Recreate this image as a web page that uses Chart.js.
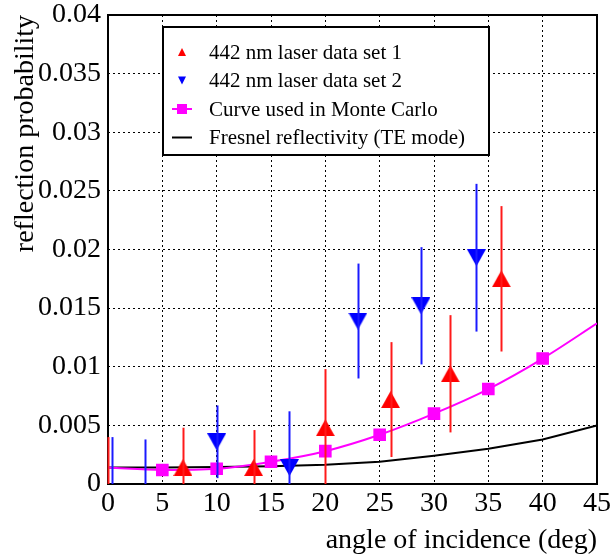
<!DOCTYPE html>
<html>
<head>
<meta charset="utf-8">
<script src="https://cdn.jsdelivr.net/npm/chart.js@4.4.1/dist/chart.umd.min.js"></script>
<style>
  html, body { margin: 0; padding: 0; background: #fff; }
  #wrap { width: 611px; height: 558px; }
</style>
</head>
<body>
<div id="wrap"><canvas id="c"></canvas></div>
<script>
// data
const set1X   = [0, 6.9, 13.4, 20.0, 26.0, 31.5, 36.2];
const set1Y   = [-0.0012, 0.0014, 0.0014, 0.0048, 0.0072, 0.0094, 0.0175];
const set1Err = [0.0052, 0.0034, 0.0032, 0.0050, 0.0049, 0.0050, 0.0062];

const set2X   = [0.35, 3.4, 10.0, 16.7, 23.0, 28.8, 33.9];
const set2Y   = [-0.0012, -0.0012, 0.0036, 0.0014, 0.0139, 0.0152, 0.0193];
const set2Err = [0.0052, 0.0050, 0.0031, 0.0048, 0.0049, 0.0050, 0.0063];

const curveX  = [0, 5, 10, 15, 20, 25, 30, 35, 40, 45];
const curveY  = [0.0014, 0.0012, 0.0013, 0.0019, 0.0028, 0.0042, 0.0060, 0.0081, 0.0107, 0.0137];

const fresX   = [0, 5, 10, 15, 20, 25, 30, 35, 40, 45];
const fresY   = [0.00140, 0.00141, 0.00145, 0.00152, 0.00165, 0.0019, 0.0024, 0.0030, 0.0038, 0.0050];

const xTicks = [0, 5, 10, 15, 20, 25, 30, 35, 40, 45];
const yTicks = [0, 0.005, 0.01, 0.015, 0.02, 0.025, 0.03, 0.035, 0.04];

const legendItems = [
  { label: '442 nm laser data set 1', kind: 'up', color: '#ff0000' },
  { label: '442 nm laser data set 2', kind: 'down', color: '#0000ff' },
  { label: 'Curve used in Monte Carlo', kind: 'square', color: '#ff00ff' },
  { label: 'Fresnel reflectivity (TE mode)', kind: 'line', color: '#000000' }
];

const FONT = "'Liberation Serif', 'DejaVu Serif', serif";

// triangle markers centred on their bounding box
function triangleImg(color, up, w, h) {
  const cv = document.createElement('canvas');
  cv.width = w; cv.height = h;
  const g = cv.getContext('2d');
  g.fillStyle = color;
  g.beginPath();
  if (up) { g.moveTo(w / 2, 0); g.lineTo(w, h); g.lineTo(0, h); }
  else { g.moveTo(0, 0); g.lineTo(w, 0); g.lineTo(w / 2, h); }
  g.closePath();
  g.fill();
  return cv;
}
const upImg = triangleImg('#ff0000', true, 19, 17);
const downImg = triangleImg('#0000ff', false, 19, 17);

const pts = (xs, ys) => xs.map((x, i) => ({ x: x, y: ys[i] }));

const errorBars = {
  id: 'errorBars',
  afterDatasetsDraw(chart) {
    const { ctx, chartArea, scales: { x, y } } = chart;
    ctx.save();
    ctx.beginPath();
    ctx.rect(chartArea.left - 1, chartArea.top, chartArea.right - chartArea.left + 2, chartArea.bottom - chartArea.top);
    ctx.clip();
    ctx.lineWidth = 2;
    [[set1X, set1Y, set1Err, '#ff1a1a'], [set2X, set2Y, set2Err, '#1a1aff']].forEach(([xs, ys, es, col]) => {
      ctx.strokeStyle = col;
      xs.forEach((xv, i) => {
        const px = Math.round(x.getPixelForValue(xv)) + 0.5;
        ctx.beginPath();
        ctx.moveTo(px, y.getPixelForValue(ys[i] - es[i]));
        ctx.lineTo(px, y.getPixelForValue(ys[i] + es[i]));
        ctx.stroke();
      });
    });
    ctx.restore();
  }
};

const frame = {
  id: 'frame',
  beforeDatasetsDraw(chart) {
    const { ctx, chartArea: a } = chart;
    ctx.save();
    ctx.strokeStyle = '#000';
    ctx.lineWidth = 2;
    ctx.strokeRect(a.left, a.top, a.right - a.left, a.bottom - a.top);
    ctx.restore();
  }
};

const boxLegend = {
  id: 'boxLegend',
  afterDraw(chart) {
    const { ctx } = chart;
    const bx = 163, by = 27, bw = 326, bh = 128;
    ctx.save();
    ctx.fillStyle = '#fff';
    ctx.fillRect(bx, by, bw, bh);
    ctx.strokeStyle = '#000';
    ctx.lineWidth = 2;
    ctx.strokeRect(bx, by, bw, bh);
    ctx.font = '21px ' + FONT;
    ctx.textBaseline = 'middle';
    legendItems.forEach((it, i) => {
      const cy = 52 + i * 28.5;
      const mx = 182;
      ctx.fillStyle = it.color;
      ctx.strokeStyle = it.color;
      if (it.kind === 'up') {
        ctx.beginPath(); ctx.moveTo(mx, cy - 4); ctx.lineTo(mx + 4, cy + 4); ctx.lineTo(mx - 4, cy + 4); ctx.closePath(); ctx.fill();
      } else if (it.kind === 'down') {
        ctx.beginPath(); ctx.moveTo(mx - 4, cy - 4); ctx.lineTo(mx + 4, cy - 4); ctx.lineTo(mx, cy + 4); ctx.closePath(); ctx.fill();
      } else if (it.kind === 'square') {
        ctx.lineWidth = 2;
        ctx.beginPath(); ctx.moveTo(mx - 10, cy); ctx.lineTo(mx + 10, cy); ctx.stroke();
        ctx.fillRect(mx - 5, cy - 5, 10, 10);
      } else {
        ctx.lineWidth = 2;
        ctx.beginPath(); ctx.moveTo(mx - 10, cy); ctx.lineTo(mx + 10, cy); ctx.stroke();
      }
      ctx.fillStyle = '#000';
      ctx.fillText(it.label, 209, cy + 1);
    });
    ctx.restore();
  }
};

new Chart(document.getElementById('c'), {
  type: 'scatter',
  data: {
    datasets: [
      {
        label: 'Fresnel reflectivity (TE mode)',
        type: 'line',
        data: pts(fresX, fresY),
        borderColor: '#000',
        borderWidth: 2,
        pointRadius: 0,
        tension: 0,
        order: 4
      },
      {
        label: 'Curve used in Monte Carlo',
        type: 'line',
        data: pts(curveX, curveY),
        borderColor: '#ff00ff',
        backgroundColor: '#ff00ff',
        borderWidth: 2,
        pointStyle: 'rect',
        pointRadius: curveX.map((v, i) => (i === 0 || i === curveX.length - 1) ? 0 : 7.5),
        cubicInterpolationMode: 'monotone',
        order: 3
      },
      {
        label: '442 nm laser data set 1',
        data: pts(set1X, set1Y),
        pointStyle: upImg,
        clip: 0,
        order: 2
      },
      {
        label: '442 nm laser data set 2',
        data: pts(set2X, set2Y),
        pointStyle: downImg,
        clip: 0,
        order: 1
      }
    ]
  },
  options: {
    responsive: true,
    maintainAspectRatio: false,
    animation: false,
    layout: { padding: { top: 15, right: 14, left: 0, bottom: 0 } },
    plugins: {
      legend: { display: false },
      tooltip: { enabled: false }
    },
    scales: {
      x: {
        type: 'linear',
        min: 0,
        max: 45,
        afterBuildTicks: s => { s.ticks = xTicks.map(v => ({ value: v })); },
        afterFit: s => { s.height = 74; s.paddingLeft = 0; s.paddingRight = 0; },
        ticks: { color: '#000', font: { family: FONT, size: 28 }, padding: 3, maxRotation: 0 },
        grid: { color: '#000', lineWidth: 1, drawTicks: false },
        border: { display: false, dash: [2, 3] },
        title: {
          display: true,
          text: 'angle of incidence (deg)',
          align: 'end',
          color: '#000',
          font: { family: FONT, size: 28 },
          padding: { top: 0, bottom: 1 }
        }
      },
      y: {
        type: 'linear',
        min: 0,
        max: 0.04,
        afterBuildTicks: s => { s.ticks = yTicks.map(v => ({ value: v })); },
        afterFit: s => { s.width = 108; s.paddingTop = 0; s.paddingBottom = 0; },
        ticks: {
          color: '#000',
          font: { family: FONT, size: 28 },
          padding: 7,
          callback: v => String(+v.toFixed(3))
        },
        grid: { color: '#000', lineWidth: 1, drawTicks: false },
        border: { display: false, dash: [2, 3] },
        title: {
          display: true,
          text: 'reflection probability',
          align: 'end',
          color: '#000',
          font: { family: FONT, size: 28 },
          padding: { top: 9, bottom: 0 }
        }
      }
    }
  },
  plugins: [errorBars, frame, boxLegend]
});
</script>
</body>
</html>
